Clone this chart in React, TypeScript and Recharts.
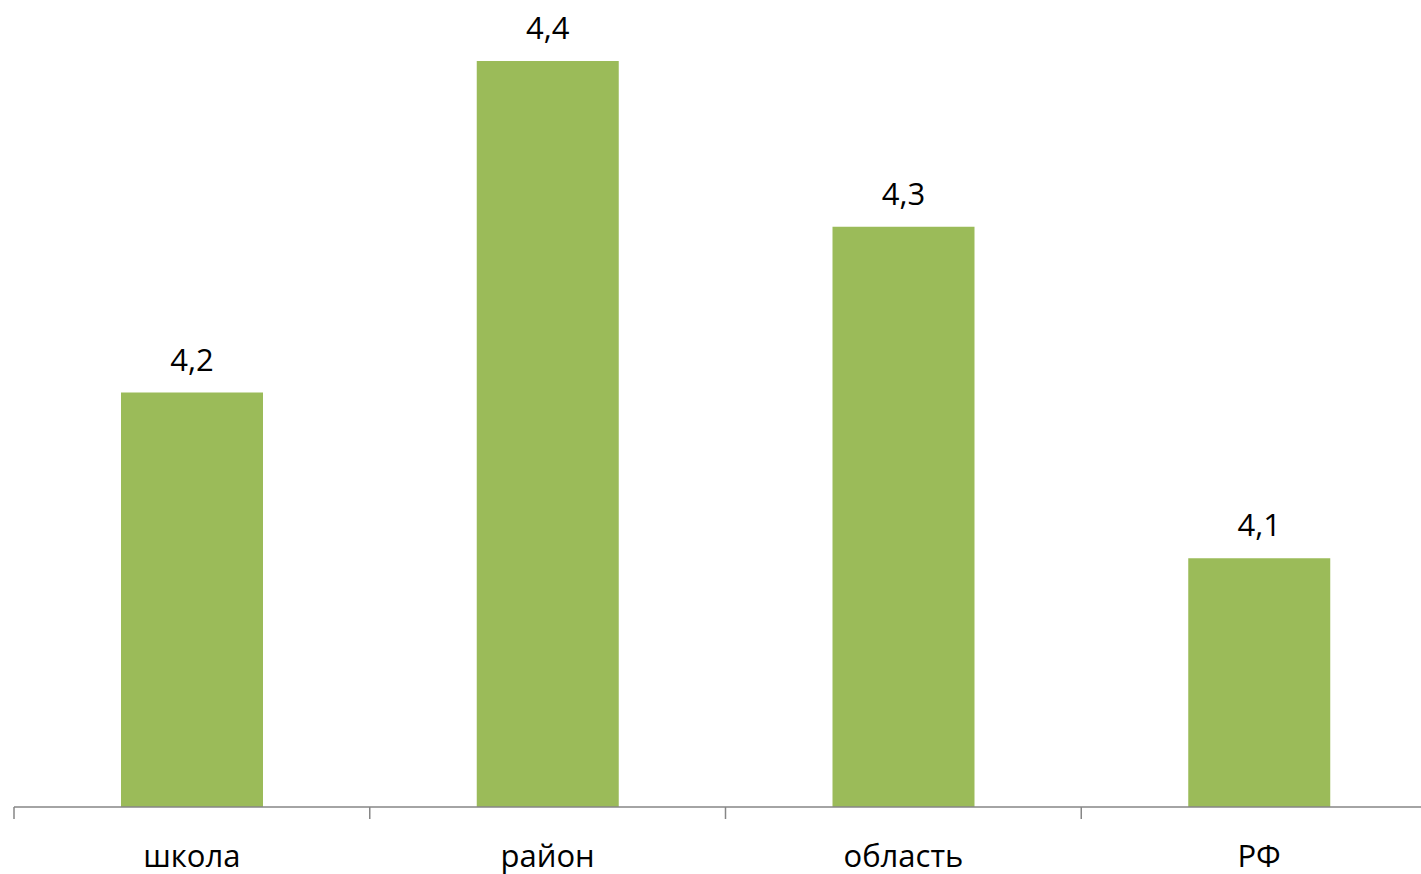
import React from 'react'
import { BarChart, Bar, XAxis, YAxis, LabelList } from 'recharts'

const categories = ['школа', 'район', 'область', 'РФ']
const scores = [4.2, 4.4, 4.3, 4.1]

const data = categories.map((name, i) => ({ name, score: scores[i] }))

const CHART_W = 1437
const CHART_H = 874
const MARGIN = { top: 61, right: 0, bottom: 0, left: 14 }
const FONT = '"Open Sans", "Noto Sans", sans-serif'

function CategoryTick(props: any) {
  const { x, y, payload } = props
  const band = (CHART_W - MARGIN.left - MARGIN.right) / categories.length
  return (
    <g>
      <line x1={x - band / 2} x2={x - band / 2} y1={y} y2={y + 12} stroke="#868686" strokeWidth={1.5} />
      <text x={x} y={y + 60} textAnchor="middle" fontSize={31} fontFamily={FONT} fill="#000">
        {payload.value}
      </text>
    </g>
  )
}

export default function App() {
  return (
    <div style={{ position: 'absolute', left: 0, top: 0, width: 1421, height: 874, overflow: 'hidden', background: '#fff' }}>
      <BarChart width={CHART_W} height={CHART_H} data={data} margin={MARGIN}>
        <XAxis
          dataKey="name"
          height={67}
          tickLine={false}
          tickSize={0}
          tickMargin={0}
          axisLine={{ stroke: '#868686', strokeWidth: 1.5 }}
          tick={<CategoryTick />}
          interval={0}
        />
        <YAxis hide domain={[3.95, 4.4]} allowDataOverflow />
        <Bar dataKey="score" fill="#9BBB59" barSize={142} isAnimationActive={false}>
          <LabelList
            dataKey="score"
            position="top"
            offset={22}
            fontSize={31}
            fontFamily={FONT}
            fill="#000"
            formatter={(v: any) => String(v).replace('.', ',')}
          />
        </Bar>
      </BarChart>
    </div>
  )
}
